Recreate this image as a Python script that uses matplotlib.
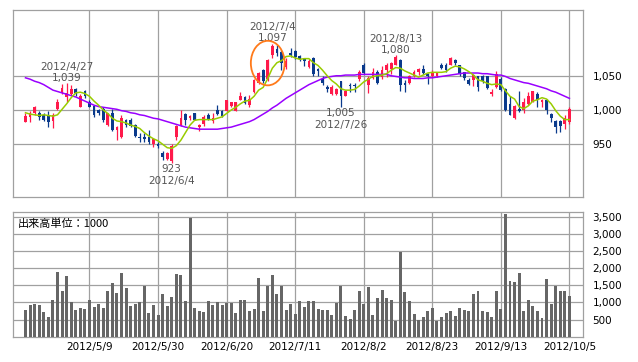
import numpy as np
import pandas as pd
import matplotlib
matplotlib.use("Agg")
import matplotlib.pyplot as plt
from matplotlib.patches import Ellipse

# trading days 2012/4/16 - 2012/10/5 (TSE holidays removed)
holidays = ["2012-04-30", "2012-05-03", "2012-05-04", "2012-07-16", "2012-09-17"]
dates = pd.bdate_range("2012-04-16", "2012-10-05", freq="C", holidays=holidays)

opens = [983, 990, 995, 996, 993, 991, 984, 1001, 1025, 1019,
         1023, 1030, 1005, 1028, 1011, 1006, 1000, 1002, 978, 996,
         971, 960, 985, 986, 978, 961, 961, 961, 951, 951,
         937, 929, 925, 961, 978, 994, 988, 995, 975, 979,
         993, 984, 1000, 998, 999, 1006, 999, 1015, 1019, 1007,
         1027, 1039, 1058, 1045, 1081, 1089, 1084, 1063, 1083, 1086,
         1079, 1074, 1063, 1076, 1060, 1045, 1034, 1023, 1024, 1042,
         1021, 1037, 1037, 1045, 1066, 1037, 1047, 1056, 1048, 1058,
         1060, 1066, 1073, 1039, 1039, 1050, 1056, 1060, 1052, 1049,
         1049, 1065, 1066, 1066, 1073, 1065, 1055, 1044, 1044, 1049,
         1050, 1050, 1024, 1034, 1045, 1030, 1009, 989, 1002, 1000,
         1009, 1012, 1024, 1011, 1015, 994, 984, 984, 980, 983]
highs = [995, 998, 1006, 998, 996, 998, 995, 1016, 1038, 1039,
         1037, 1032, 1024, 1029, 1015, 1007, 1002, 1004, 996, 1002,
         976, 992, 987, 988, 980, 966, 966, 971, 959, 953,
         940, 939, 950, 978, 1000, 995, 993, 995, 980, 992,
         995, 995, 1007, 1000, 1015, 1012, 1012, 1027, 1021, 1022,
         1045, 1056, 1060, 1074, 1097, 1095, 1088, 1076, 1090, 1088,
         1081, 1076, 1074, 1077, 1061, 1049, 1037, 1037, 1032, 1043,
         1029, 1039, 1039, 1059, 1069, 1049, 1061, 1059, 1064, 1068,
         1070, 1080, 1074, 1044, 1051, 1059, 1061, 1066, 1054, 1058,
         1055, 1068, 1069, 1078, 1074, 1066, 1056, 1047, 1053, 1050,
         1051, 1050, 1030, 1057, 1048, 1032, 1020, 1007, 1028, 1017,
         1027, 1028, 1027, 1016, 1016, 996, 985, 986, 993, 1005]
lows = [982, 983, 993, 985, 984, 975, 974, 1000, 1023, 1012,
        1022, 1021, 1004, 1017, 1004, 990, 993, 983, 976, 970,
        956, 959, 975, 975, 961, 953, 953, 951, 946, 944,
        927, 927, 923, 956, 977, 978, 985, 985, 970, 977,
        985, 981, 993, 990, 998, 1005, 998, 1014, 1009, 1005,
        1025, 1038, 1040, 1042, 1076, 1079, 1059, 1060, 1078, 1074,
        1071, 1064, 1061, 1049, 1050, 1037, 1027, 1022, 1022, 1005,
        1020, 1027, 1027, 1043, 1053, 1025, 1045, 1038, 1045, 1048,
        1053, 1065, 1028, 1027, 1038, 1048, 1051, 1053, 1038, 1048,
        1048, 1060, 1056, 1065, 1065, 1050, 1044, 1037, 1035, 1028,
        1039, 1030, 1021, 1032, 1028, 999, 993, 987, 997, 996,
        1007, 1011, 1005, 1005, 994, 983, 967, 968, 972, 980]
closes = [991, 995, 1005, 990, 985, 983, 993, 1012, 1032, 1025,
          1030, 1025, 1020, 1021, 1005, 993, 996, 985, 995, 971,
          975, 988, 978, 977, 962, 959, 958, 954, 957, 947,
          932, 937, 947, 976, 989, 985, 991, 986, 978, 990,
          987, 989, 994, 991, 1014, 1011, 1011, 1020, 1010, 1016,
          1044, 1054, 1042, 1073, 1094, 1083, 1068, 1072, 1080, 1077,
          1074, 1072, 1072, 1052, 1057, 1039, 1031, 1034, 1030, 1020,
          1028, 1035, 1035, 1055, 1054, 1046, 1056, 1040, 1059, 1065,
          1068, 1078, 1037, 1037, 1049, 1056, 1060, 1054, 1050, 1056,
          1054, 1061, 1059, 1076, 1068, 1052, 1047, 1038, 1051, 1034,
          1042, 1032, 1027, 1053, 1029, 1000, 993, 1006, 999, 1012,
          1021, 1028, 1014, 1015, 1000, 989, 975, 976, 989, 1002]
ma_short = [996, 994, 993, 992, 993, 992, 991, 993, 1001, 1009,
            1018, 1025, 1026, 1024, 1020, 1013, 1007, 1000, 995, 988,
            984, 983, 981, 978, 976, 973, 967, 962, 958, 955,
            950, 945, 944, 948, 956, 967, 978, 985, 986, 986,
            986, 986, 988, 990, 995, 1000, 1004, 1009, 1013, 1014,
            1020, 1029, 1033, 1046, 1061, 1069, 1072, 1078, 1079, 1076,
            1074, 1075, 1075, 1069, 1065, 1058, 1050, 1043, 1038, 1031,
            1029, 1029, 1030, 1035, 1041, 1045, 1049, 1050, 1051, 1053,
            1058, 1062, 1061, 1057, 1054, 1051, 1048, 1051, 1054, 1055,
            1055, 1055, 1056, 1061, 1064, 1063, 1060, 1056, 1051, 1044,
            1042, 1039, 1037, 1038, 1037, 1028, 1020, 1016, 1005, 1002,
            1006, 1013, 1015, 1018, 1016, 1009, 999, 991, 986, 986]
ma_long = [1047, 1045, 1042, 1040, 1037, 1033, 1029, 1027, 1025, 1023,
           1021, 1019, 1016, 1013, 1010, 1007, 1005, 1004, 1003, 1002,
           1001, 999, 998, 996, 995, 993, 992, 990, 988, 987,
           985, 983, 981, 979, 977, 975, 974, 973, 972, 972,
           972, 972, 972, 973, 974, 975, 977, 979, 981, 983,
           986, 990, 994, 998, 1003, 1007, 1012, 1017, 1021, 1025,
           1029, 1033, 1037, 1040, 1043, 1046, 1048, 1049, 1050, 1050,
           1051, 1051, 1051, 1052, 1052, 1052, 1052, 1052, 1052, 1052,
           1050, 1049, 1048, 1047, 1047, 1046, 1046, 1046, 1047, 1047,
           1048, 1049, 1050, 1051, 1052, 1053, 1054, 1054, 1054, 1054,
           1053, 1053, 1052, 1051, 1051, 1049, 1046, 1044, 1042, 1040,
           1039, 1037, 1035, 1033, 1031, 1028, 1026, 1023, 1020, 1017]
volume = [778, 924, 954, 924, 720, 574, 1070, 1888, 1343, 1771,
          1012, 778, 837, 808, 1070, 866, 954, 837, 1333, 1567,
          1275, 1858, 1421, 895, 954, 1012, 1479, 691, 924, 632,
          1245, 895, 1158, 1829, 1800, 1041, 3474, 837, 749, 720,
          1041, 924, 1012, 924, 983, 983, 691, 1070, 1070, 749,
          808, 1712, 749, 1479, 1800, 1245, 1479, 778, 954, 662,
          1041, 866, 1041, 1041, 808, 778, 778, 632, 983, 1479,
          603, 506, 778, 1333, 954, 1450, 632, 1129, 1362, 1129,
          1070, 457, 2481, 1304, 1041, 662, 487, 574, 749, 837,
          457, 574, 691, 749, 603, 837, 778, 749, 1245, 1333,
          749, 720, 574, 1333, 808, 3581, 1625, 1596, 1858, 749,
          1070, 895, 749, 545, 1683, 954, 1479, 1333, 1333, 1187]

tick_dates = ["2012-05-09", "2012-05-30", "2012-06-20", "2012-07-11",
              "2012-08-02", "2012-08-23", "2012-09-13", "2012-10-05"]
price_ticks = [950, 1000, 1050]
vol_ticks = [500, 1000, 1500, 2000, 2500, 3000, 3500]
peak_dates = ["2012-04-27", "2012-07-04", "2012-08-13"]
trough_dates = ["2012-06-04", "2012-07-26"]
circle_date = "2012-07-03"

UP = "#ff1a4b"
DOWN = "#0a3a8c"
GRID = "#a0a0a0"

x = np.arange(len(dates))
o = np.array(opens); c = np.array(closes)
h = np.array(highs); l = np.array(lows)
up = c >= o
cols = np.where(up, UP, DOWN)

def fmt(v):
    return f"{v:,}"

def pos(d):
    return dates.get_loc(pd.Timestamp(d))

fig = plt.figure(figsize=(6.38, 3.62), dpi=100)
ax = fig.add_axes([0.0199, 0.4558, 0.8934, 0.5166])
axv = fig.add_axes([0.0199, 0.0699, 0.8934, 0.3436])

tick_x = [pos(d) for d in tick_dates]
tick_lbl = [f"{pd.Timestamp(d).year}/{pd.Timestamp(d).month}/{pd.Timestamp(d).day}" for d in tick_dates]

for a in (ax, axv):
    a.set_xlim(-2.8, 121.9)
    for s in a.spines.values():
        s.set_color(GRID)
        s.set_linewidth(0.9)
    a.set_xticks(tick_x)
    a.grid(True, color=GRID, linewidth=0.9)
    a.set_axisbelow(True)
    a.yaxis.tick_right()
    a.tick_params(length=0, labelsize=7.5, colors="black")

# price panel
ax.set_ylim(873, 1146)
ax.set_yticks(price_ticks)
ax.set_yticklabels([fmt(v) for v in price_ticks])
ax.tick_params(axis="y", pad=7)
ax.set_xticklabels([])

ax.vlines(x, l, h, colors=cols, linewidth=0.9, zorder=2)
body_lo = np.minimum(o, c)
body_h = np.maximum(np.abs(c - o), 0.9)
ax.bar(x, body_h, bottom=body_lo, width=0.6, color=cols, linewidth=0, zorder=3)

ax.plot(x, ma_long, color="#9900ff", linewidth=1.1, zorder=4)
ax.plot(x, ma_short, color="#99cc00", linewidth=1.1, zorder=4)

# high / low labels
for d in peak_dates:
    i = pos(d)
    ax.annotate(fmt(highs[i]), (i, highs[i]), xytext=(0, 3.8), textcoords="offset points",
                ha="center", va="center", fontsize=7.5, color="#555555")
    ax.annotate(f"{dates[i].year}/{dates[i].month}/{dates[i].day}", (i, highs[i]),
                xytext=(0, 11.8), textcoords="offset points",
                ha="center", va="center", fontsize=7.5, color="#555555")
for d in trough_dates:
    i = pos(d)
    ax.annotate(fmt(lows[i]), (i, lows[i]), xytext=(0, -4.8), textcoords="offset points",
                ha="center", va="center", fontsize=7.5, color="#555555")
    ax.annotate(f"{dates[i].year}/{dates[i].month}/{dates[i].day}", (i, lows[i]),
                xytext=(0, -13), textcoords="offset points",
                ha="center", va="center", fontsize=7.5, color="#555555")

# orange highlight round the breakout
ci = pos(circle_date)
cy = (lows[ci - 1] + highs[ci + 1]) / 2
ax.add_patch(Ellipse((ci, cy), 7.4, highs[ci + 1] - lows[ci - 1] + 8,
                     fill=False, edgecolor="#ff7a1a", linewidth=1.3, zorder=5))

# volume panel
axv.set_ylim(0, 3630)
axv.set_yticks(vol_ticks)
axv.set_yticklabels([fmt(v) for v in vol_ticks])
axv.tick_params(axis="y", pad=7)
axv.set_xticklabels(tick_lbl)
axv.tick_params(axis="x", pad=4)
axv.bar(x, volume, width=0.65, color="#666666", linewidth=0, zorder=3)
axv.text(0.008, 0.905, "出来高単位：1000", transform=axv.transAxes, fontsize=8,
         family=["Noto Sans CJK JP", "DejaVu Sans"], va="center", ha="left", color="black")

fig.savefig("out.png", dpi=100)
